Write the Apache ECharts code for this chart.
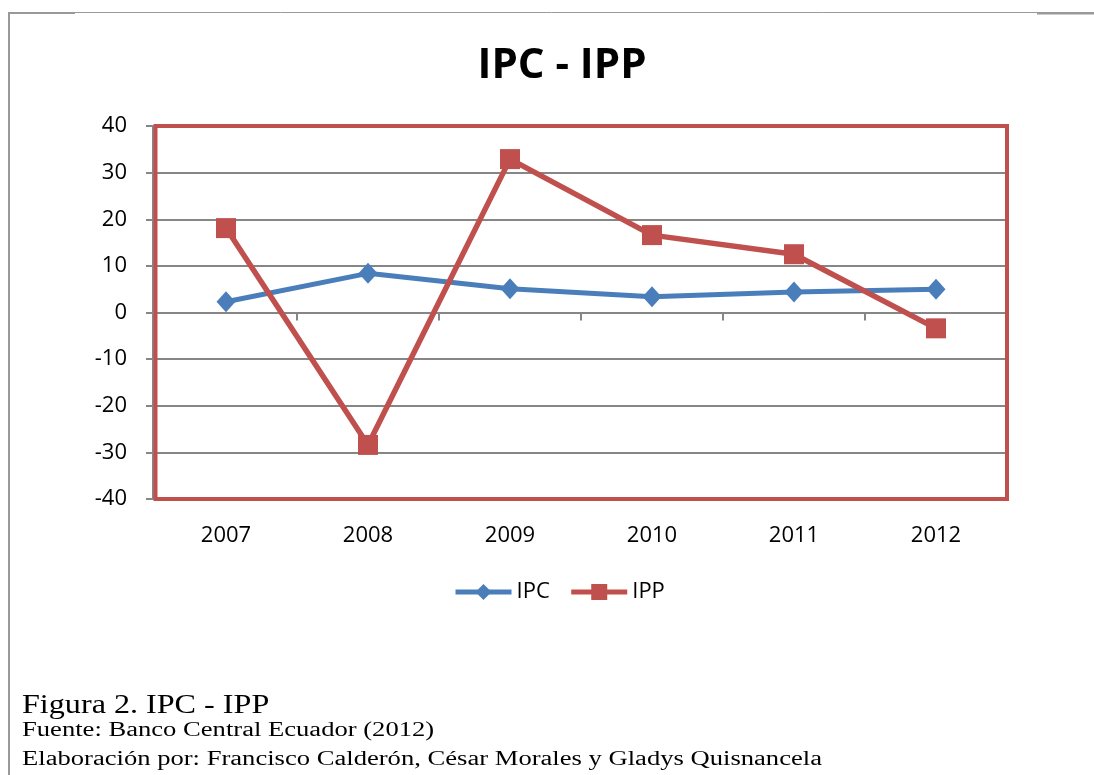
<!DOCTYPE html>
<html>
<head>
<meta charset="utf-8">
<script src="https://cdn.jsdelivr.net/npm/echarts@6/dist/echarts.min.js"></script>
<style>
  html, body { margin: 0; padding: 0; background: #fff; }
  #main { width: 1094px; height: 775px; }
</style>
</head>
<body>
<div id="main"></div>
<script>
// datos
var years = ["2007", "2008", "2009", "2010", "2011", "2012"];
var ipc = [2.3, 8.4, 5.1, 3.4, 4.4, 5.0];
var ipp = [18.1, -28.4, 32.9, 16.6, 12.5, -3.4];
var yTicks = [-40, -30, -20, -10, 0, 10, 20, 30, 40];

var chart = echarts.init(document.getElementById("main"));

var gray = "#868686";
var red = "#c0504d";
var blue = "#4a7ebb";

var option = {
  backgroundColor: "#fff",
  animation: false,
  title: {
    text: "IPC - IPP",
    left: 557,
    textAlign: "center",
    top: 40,
    textStyle: { fontFamily: "Open Sans", fontWeight: "bold", fontSize: 42, color: "#000" }
  },
  legend: {
    data: ["IPC", "IPP"],
    left: 448,
    top: 576,
    itemWidth: 56,
    itemHeight: 20,
    itemGap: 19,
    lineStyle: { width: 5 },
    textStyle: { fontFamily: "Open Sans", fontSize: 22, color: "#000" }
  },
  grid: {
    left: 155, right: 87, top: 126, bottom: 276
  },
  xAxis: [
    {
      type: "category",
      data: years,
      axisLine: { onZero: true, lineStyle: { color: gray, width: 2 } },
      axisTick: { show: true, length: 8, lineStyle: { color: gray, width: 2 } },
      axisLabel: { show: false }
    },
    {
      type: "category",
      data: years,
      position: "bottom",
      axisLine: { show: false },
      axisTick: { show: false },
      axisLabel: { margin: 26, fontFamily: "Open Sans", fontSize: 22, color: "#000" }
    }
  ],
  yAxis: {
    type: "value",
    min: yTicks[0],
    max: yTicks[yTicks.length - 1],
    interval: 10,
    offset: 2,
    axisLine: { show: true, lineStyle: { color: gray, width: 2 } },
    axisTick: { show: true, length: 7, lineStyle: { color: gray, width: 2 } },
    axisLabel: { margin: 26, fontFamily: "Open Sans", fontSize: 22, color: "#000" },
    splitLine: { lineStyle: { color: gray, width: 2 } }
  },
  series: [
    {
      name: "IPC",
      type: "line",
      data: ipc,
      symbol: "diamond",
      symbolSize: [19, 21],
      color: blue,
      lineStyle: { width: 5 },
      z: 3
    },
    {
      name: "IPP",
      type: "line",
      data: ipp,
      symbol: "rect",
      symbolSize: 20,
      color: red,
      lineStyle: { width: 5.5 },
      z: 4
    }
  ],
  graphic: [
    // marco del area de trazado
    { type: "rect", z: 50, shape: { x: 155.5, y: 126, width: 851.5, height: 373 }, style: { fill: "none", stroke: red, lineWidth: 4 } },
    // marco exterior
    { type: "line", shape: { x1: 9, y1: 12.5, x2: 1094, y2: 12.5 }, style: { stroke: "#9a9a9a", lineWidth: 1 } },
    { type: "line", shape: { x1: 9, y1: 13, x2: 75, y2: 13 }, style: { stroke: "#999", lineWidth: 2 } },
    { type: "line", shape: { x1: 1037, y1: 13.5, x2: 1094, y2: 13.5 }, style: { stroke: "#999", lineWidth: 2 } },
    { type: "line", shape: { x1: 9, y1: 12, x2: 9, y2: 775 }, style: { stroke: "#999", lineWidth: 2 } },
    {
      type: "text", x: 22, y: 692, scaleX: 1.19,
      style: { text: "Figura 2. IPC - IPP", font: "27px 'Liberation Serif'", fill: "#000" }
    },
    {
      type: "text", x: 22, y: 721, scaleX: 1.33,
      style: { text: "Fuente: Banco Central Ecuador (2012)", font: "20px 'Liberation Serif'", fill: "#000" }
    },
    {
      type: "text", x: 22, y: 750, scaleX: 1.33,
      style: { text: "Elaboración por: Francisco Calderón, César Morales y Gladys Quisnancela", font: "20px 'Liberation Serif'", fill: "#000" }
    }
  ]
};

chart.setOption(option);
</script>
</body>
</html>
